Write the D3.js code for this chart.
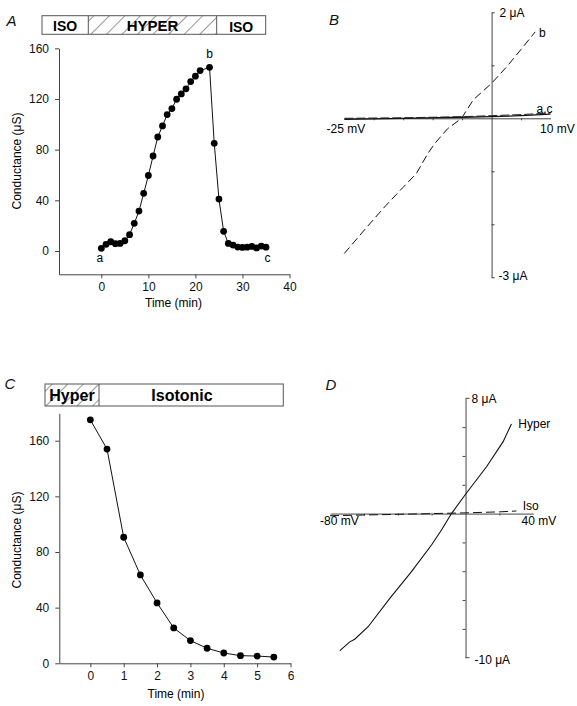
<!DOCTYPE html>
<html><head><meta charset="utf-8">
<script src="https://cdn.jsdelivr.net/npm/d3@7"></script>
<style>
body{margin:0;background:#fff;}
svg{display:block;font-family:"Liberation Sans",Arial,sans-serif;}
</style></head>
<body>
<script>
// ---- Panel A data ----
const timeA = [0,1,2,3,4,5,6,7,8,9,10,11,12,13,14,15,16,17,18,19,20,21,23,24,25,26,27,28,29,30,31,32,33,34,35];
const condA = [2.1,5.3,7.3,5.8,6,8.1,12.9,21.8,31.5,45.5,59.6,75,90,98.7,107.7,112.4,119.8,124,128,133.7,138,142.4,145,85,41,15.5,6,4.7,3.1,2.8,3,3.6,2.4,3.9,3];
const ticksAx = [0,10,20,30,40];
const ticksAy = [0,40,80,120,160];
// ---- Panel B data ----
const bV = [-25,-21.3,-17.9,-15,-12.75,-10.8,-9.6,-7.5,-5.1,-3.1,0,2.55,5,7.4];
const bI = [-2.55,-2.07,-1.64,-1.3,-1.04,-0.66,-0.47,-0.2,0,0.35,0.66,0.97,1.3,1.63];
const aV = [-25,-15,-5,0,5,10];
const aI = [-0.02,0,0.02,0.03,0.05,0.08];
const cV = [-25,-15,-5,0,5,10];
const cI = [0,0.01,0.03,0.05,0.07,0.1];
// ---- Panel C data ----
const timeC = [0,0.5,1,1.5,2,2.5,3,3.5,4,4.5,5,5.5];
const condC = [175,154,90.6,63.5,43.4,25.4,16.3,10.8,7.4,5.5,5.2,4.5];
const ticksCx = [0,1,2,3,4,5,6];
const ticksCy = [0,40,80,120,160];
// ---- Panel D data ----
const hyperV = [-74.2,-68.3,-65.4,-57.5,-44.7,-31.9,-20.1,-14.2,-8.3,0,12.4,22.2,27.1];
const hyperI = [-9.51,-8.9,-8.72,-7.85,-5.88,-4.03,-2.18,-1.14,0,1.34,3.25,4.99,6.22];
const isoV = [-80,-60,-40,-20,0,20,30];
const isoI = [-0.15,-0.1,-0.05,0,0.05,0.12,0.18];

const svg = d3.select("body").append("svg").attr("width",577).attr("height",706);
const defs = svg.append("defs");
const pat = defs.append("pattern").attr("id","hatch").attr("patternUnits","userSpaceOnUse")
  .attr("width",11).attr("height",11).attr("patternTransform","rotate(45)");
pat.append("line").attr("x1",0).attr("y1",0).attr("x2",0).attr("y2",11).attr("stroke","#333").attr("stroke-width",1);

const axisCol = "#444";
function styleAxis(g){
  g.selectAll("path,line").attr("stroke",axisCol).attr("stroke-width",1);
  g.selectAll("text").attr("fill","#111").style("font-size","12px").style("font-family","Liberation Sans, Arial, sans-serif");
}
function letter(x,y,t){
  svg.append("text").attr("x",x).attr("y",y).text(t).style("font-style","italic").style("font-size","15px").attr("fill","#111");
}

// ================= Panel A =================
{
  const x = d3.scaleLinear().domain([-9,40]).range([59,289.5]);
  const y = d3.scaleLinear().domain([-18.4,160]).range([274.3,48.3]);
  const gx = svg.append("g").attr("transform","translate(0,274.3)")
    .call(d3.axisBottom(x).tickValues(ticksAx).tickSize(4).tickSizeOuter(0).tickPadding(4));
  styleAxis(gx);
  const gy = svg.append("g").attr("transform","translate(59,0)")
    .call(d3.axisLeft(y).tickValues(ticksAy).tickSize(4).tickSizeOuter(0).tickPadding(6));
  styleAxis(gy);
  svg.append("text").attr("x",173.5).attr("y",306.5).attr("text-anchor","middle").style("font-size","12px").text("Time (min)");
  svg.append("text").attr("transform","translate(21,161) rotate(-90)").attr("text-anchor","middle").style("font-size","12px").text("Conductance (\u03bcS)");
  const line = d3.line().x((d,i)=>x(timeA[i])).y((d,i)=>y(condA[i]));
  svg.append("path").datum(condA).attr("d",line).attr("fill","none").attr("stroke","#111").attr("stroke-width",1);
  svg.append("g").selectAll("circle").data(condA).join("circle")
    .attr("cx",(d,i)=>x(timeA[i])).attr("cy",d=>y(d)).attr("r",3.4).attr("fill","#000");
  svg.append("text").attr("x",x(-0.3)).attr("y",y(-8.5)).attr("text-anchor","middle").style("font-size","12px").text("a");
  svg.append("text").attr("x",x(23)).attr("y",y(152)).attr("text-anchor","middle").style("font-size","12px").text("b");
  svg.append("text").attr("x",x(35.3)).attr("y",y(-8.5)).attr("text-anchor","middle").style("font-size","12px").text("c");
  // bar
  const x0=42,x1=265.7,d1=88.3,d2=216.7,y0=15.7,y1=34.3;
  svg.append("rect").attr("x",d1).attr("y",y0).attr("width",d2-d1).attr("height",y1-y0).attr("fill","url(#hatch)");
  svg.append("rect").attr("x",x0).attr("y",y0).attr("width",x1-x0).attr("height",y1-y0).attr("fill","none").attr("stroke","#555");
  [d1,d2].forEach(v=>svg.append("line").attr("x1",v).attr("x2",v).attr("y1",y0).attr("y2",y1).attr("stroke","#555"));
  svg.append("text").attr("x",(x0+d1)/2).attr("y",31).attr("text-anchor","middle").style("font-weight","bold").style("font-size","14px").text("ISO");
  svg.append("text").attr("x",(d1+d2)/2).attr("y",31).attr("text-anchor","middle").style("font-weight","bold").style("font-size","15px").text("HYPER");
  svg.append("text").attr("x",(d2+x1)/2).attr("y",31.5).attr("text-anchor","middle").style("font-weight","bold").style("font-size","14px").text("ISO");
  letter(6.5,26,"A");
}

// ================= Panel B =================
{
  const x = d3.scaleLinear().domain([-25,10]).range([344.3,550.5]);
  const y = d3.scaleLinear().domain([-3,2]).range([277.3,12.3]);
  const gx = svg.append("g").attr("transform",`translate(0,${y(0)})`)
    .call(d3.axisBottom(x).tickValues([-20,-15,-10,-5,5]).tickSize(2).tickSizeOuter(0).tickFormat(""));
  styleAxis(gx);
  const gy = svg.append("g").attr("transform",`translate(${x(0)},0)`)
    .call(d3.axisRight(y).tickValues([-3,-2,-1,1,2]).tickSize(3).tickSizeOuter(0).tickFormat(""));
  styleAxis(gy);
  svg.append("text").attr("x",x(0)+8).attr("y",y(2)+4.5).style("font-size","12px").text("2 \u03bcA");
  svg.append("text").attr("x",x(0)+7).attr("y",y(-3)+2.5).style("font-size","12px").text("-3 \u03bcA");
  svg.append("text").attr("x",326.5).attr("y",133).style("font-size","12px").text("-25 mV");
  svg.append("text").attr("x",540).attr("y",133).style("font-size","12px").text("10 mV");
  const mk = (V)=> d3.line().x((d,i)=>x(V[i])).y(d=>y(d));
  svg.append("path").datum(bI).attr("d",mk(bV)).attr("fill","none").attr("stroke","#111").attr("stroke-width",1).attr("stroke-dasharray","8,4");
  svg.append("path").datum(aI).attr("d",mk(aV)).attr("fill","none").attr("stroke","#111").attr("stroke-width",1.3);
  svg.append("path").datum(cI).attr("d",mk(cV)).attr("fill","none").attr("stroke","#222").attr("stroke-width",1).attr("stroke-dasharray","9,3");
  svg.append("text").attr("x",539).attr("y",37).style("font-size","12px").text("b");
  svg.append("text").attr("x",536.5).attr("y",113).style("font-size","12px").text("a,c");
  letter(329,25,"B");
}

// ================= Panel C =================
{
  const x = d3.scaleLinear().domain([-0.93,6]).range([59.3,290.5]);
  const y = d3.scaleLinear().domain([0,179.7]).range([663.3,413.3]);
  const gx = svg.append("g").attr("transform","translate(0,663.3)")
    .call(d3.axisBottom(x).tickValues(ticksCx).tickFormat(d3.format("d")).tickSize(4).tickSizeOuter(0).tickPadding(4));
  styleAxis(gx);
  const gy = svg.append("g").attr("transform","translate(59.3,0)")
    .call(d3.axisLeft(y).tickValues(ticksCy).tickSize(4).tickSizeOuter(0).tickPadding(6));
  styleAxis(gy);
  svg.append("text").attr("x",176).attr("y",697.5).attr("text-anchor","middle").style("font-size","12px").text("Time (min)");
  svg.append("text").attr("transform","translate(21,540) rotate(-90)").attr("text-anchor","middle").style("font-size","12px").text("Conductance (\u03bcS)");
  const line = d3.line().x((d,i)=>x(timeC[i])).y(d=>y(d));
  svg.append("path").datum(condC).attr("d",line).attr("fill","none").attr("stroke","#111").attr("stroke-width",1);
  svg.append("g").selectAll("circle").data(condC).join("circle")
    .attr("cx",(d,i)=>x(timeC[i])).attr("cy",d=>y(d)).attr("r",3.4).attr("fill","#000");
  const x0=45,x1=283.3,d1=99,y0=384,y1=406;
  svg.append("rect").attr("x",x0).attr("y",y0).attr("width",d1-x0).attr("height",y1-y0).attr("fill","url(#hatch)");
  svg.append("rect").attr("x",x0).attr("y",y0).attr("width",x1-x0).attr("height",y1-y0).attr("fill","none").attr("stroke","#555");
  svg.append("line").attr("x1",d1).attr("x2",d1).attr("y1",y0).attr("y2",y1).attr("stroke","#555");
  svg.append("text").attr("x",(x0+d1)/2).attr("y",401).attr("text-anchor","middle").style("font-weight","bold").style("font-size","16px").text("Hyper");
  svg.append("text").attr("x",182).attr("y",401).attr("text-anchor","middle").style("font-weight","bold").style("font-size","16px").text("Isotonic");
  letter(4.5,388.5,"C");
}

// ================= Panel D =================
{
  const x = d3.scaleLinear().domain([-80,40]).range([330,533.3]);
  const y = d3.scaleLinear().domain([-10,8]).range([657.7,398.3]);
  const gx = svg.append("g").attr("transform",`translate(0,${y(0)})`)
    .call(d3.axisBottom(x).tickValues([-60,-40,-20,20]).tickSize(2).tickSizeOuter(0).tickFormat(""));
  styleAxis(gx);
  const gy = svg.append("g").attr("transform",`translate(${x(0)},0)`)
    .call(d3.axisLeft(y).tickValues([-8,-6,-4,-2,2,4,6]).tickSize(3).tickSizeOuter(0).tickFormat(""));
  styleAxis(gy);
  [8,-10].forEach(v=>svg.append("line").attr("x1",x(0)).attr("x2",x(0)+4).attr("y1",y(v)).attr("y2",y(v)).attr("stroke",axisCol));
  svg.append("text").attr("x",x(0)+6).attr("y",y(8)+4.5).style("font-size","12px").text("8 \u03bcA");
  svg.append("text").attr("x",x(0)+9).attr("y",y(-10)+6).style("font-size","12px").text("-10 \u03bcA");
  svg.append("text").attr("x",320).attr("y",525).style("font-size","12px").text("-80 mV");
  svg.append("text").attr("x",521.5).attr("y",525).style("font-size","12px").text("40 mV");
  const mk = (V)=> d3.line().x((d,i)=>x(V[i])).y(d=>y(d));
  svg.append("path").datum(hyperI).attr("d",mk(hyperV)).attr("fill","none").attr("stroke","#111").attr("stroke-width",1.1);
  svg.append("path").datum(isoI).attr("d",mk(isoV)).attr("fill","none").attr("stroke","#111").attr("stroke-width",1).attr("stroke-dasharray","9,4");
  svg.append("text").attr("x",518.3).attr("y",427.5).style("font-size","12px").text("Hyper");
  svg.append("text").attr("x",522.7).attr("y",509.5).style("font-size","12px").text("Iso");
  letter(325.5,390,"D");
}
</script>
</body></html>
